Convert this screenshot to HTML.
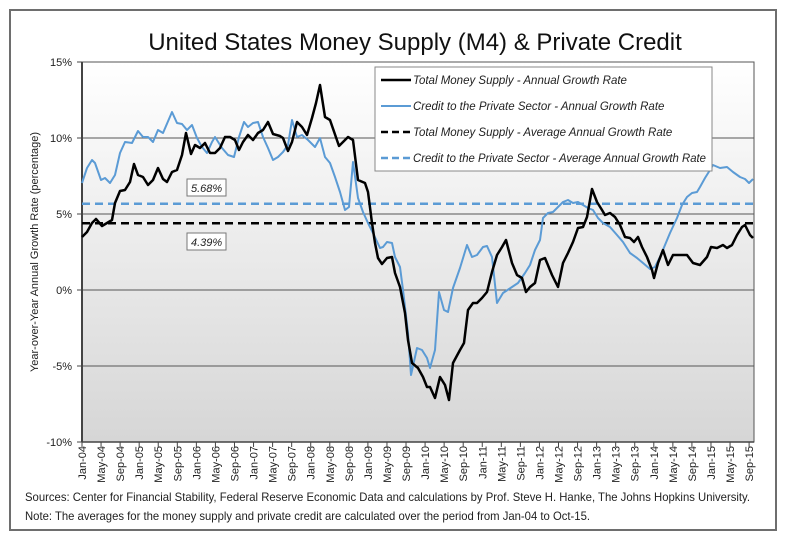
<!DOCTYPE html>
<html><head><meta charset="utf-8"><style>
body{margin:0;width:800px;height:544px;background:#fff;overflow:hidden}
text{font-family:"Liberation Sans",Arial,sans-serif}
</style></head><body>
<svg width="800" height="544" viewBox="0 0 800 544" xmlns="http://www.w3.org/2000/svg">
<defs><linearGradient id="g" x1="0" y1="0" x2="0" y2="1"><stop offset="0" stop-color="#ffffff"/><stop offset="1" stop-color="#d6d6d6"/></linearGradient></defs>
<rect x="10" y="10" width="766" height="520" fill="#fff" stroke="#6e6e6e" stroke-width="2"/>
<text x="415" y="50" font-size="24" text-anchor="middle" fill="#111">United States Money Supply (M4) &amp; Private Credit</text>
<rect x="82" y="62" width="672" height="380" fill="url(#g)" stroke="#555" stroke-width="1"/>
<g stroke="#555" stroke-width="1">
<line x1="82" y1="138" x2="754" y2="138"/><line x1="82" y1="214" x2="754" y2="214"/>
<line x1="82" y1="290" x2="754" y2="290"/><line x1="82" y1="366" x2="754" y2="366"/>
</g>
<line x1="82" y1="62" x2="82" y2="442" stroke="#444" stroke-width="2"/>
<line x1="82" y1="442" x2="754" y2="442" stroke="#444" stroke-width="1.5"/>
<g stroke="#444" stroke-width="1"><line x1="77" y1="62" x2="82" y2="62"/><line x1="77" y1="138" x2="82" y2="138"/><line x1="77" y1="214" x2="82" y2="214"/><line x1="77" y1="290" x2="82" y2="290"/><line x1="77" y1="366" x2="82" y2="366"/><line x1="77" y1="442" x2="82" y2="442"/></g>
<g font-size="11" fill="#222" text-anchor="end">
<text x="72" y="66">15%</text><text x="72" y="142">10%</text><text x="72" y="218">5%</text><text x="72" y="294">0%</text><text x="72" y="370">-5%</text><text x="72" y="446">-10%</text>
</g>
<text transform="translate(38,252) rotate(-90)" font-size="11" text-anchor="middle" fill="#222">Year-over-Year Annual Growth Rate (percentage)</text>
<g id="xt" font-size="11" fill="#222"></g>
<line x1="82" y1="203.7" x2="754" y2="203.7" stroke="#5b9bd5" stroke-width="2.5" stroke-dasharray="8,5"/>
<line x1="82" y1="223.3" x2="754" y2="223.3" stroke="#000" stroke-width="2.5" stroke-dasharray="8,5"/>
<polyline fill="none" stroke="#5b9bd5" stroke-width="2" stroke-linejoin="round" points="82,183 87,168 92,160 95,163 101,180 105,178 110,183 115,175 120,153 125,142 132,143 138,131 143,137 148,137 153,142 158,130 163,133 172,112 177,123 182,124 187,130 192,125 197,138 202,147 207,153 212,142 215,137 222,148 228,155 234,157 239,137 244,122 248,127 253,123 258,122 263,137 268,148 273,160 278,157 283,152 288,145 292,120 297,137 302,135 308,140 315,147 320,138 325,157 330,163 335,177 340,192 345,210 349,207 353,162 358,198 363,212 368,223 373,233 380,248 383,247 387,242 392,243 395,257 400,267 403,290 408,333 411,375 417,348 422,350 427,358 430,368 435,350 439,292 444,310 448,312 453,288 460,268 467,245 472,257 477,255 483,247 487,246 492,257 497,303 503,293 512,287 518,283 525,273 530,265 535,250 540,240 543,218 548,213 553,212 558,207 563,202 568,200 573,203 578,202 583,205 588,208 593,210 598,218 603,223 610,227 617,235 623,242 630,253 637,258 643,263 650,269 655,267 660,257 665,245 670,233 677,218 682,205 687,197 692,193 697,192 700,187 705,178 710,170 713,165 720,168 727,167 733,172 740,177 745,179 749,183 753,179"/>
<polyline fill="none" stroke="#000" stroke-width="2.5" stroke-linejoin="round" points="82,237 87,232 92,223 96,219 102,226 107,223 112,220 115,203 120,191 125,190 130,182 134,164 138,175 143,177 148,185 153,180 158,168 163,179 167,182 172,172 177,170 182,155 186,133 191,154 195,145 200,148 205,143 210,153 215,153 220,148 225,137 230,137 235,140 239,150 243,142 248,135 253,140 258,133 263,130 268,122 273,134 280,136 283,138 288,151 292,142 297,122 302,127 307,135 312,118 316,103 320,85 325,117 330,120 339,146 343,142 348,137 353,140 358,180 365,183 368,192 372,223 375,243 378,258 382,264 387,258 392,257 395,273 400,287 405,313 408,340 412,363 418,368 423,377 427,387 430,387 435,398 440,377 445,385 449,400 453,363 460,350 464,343 468,310 473,303 477,303 482,298 487,292 492,272 497,255 502,247 506,240 512,263 517,275 522,278 526,292 530,287 535,283 540,260 545,258 552,275 558,287 563,263 568,253 573,242 578,228 583,227 587,217 592,189 597,202 602,210 605,215 610,213 615,217 620,225 625,237 630,238 634,242 638,237 642,247 647,257 652,270 654,278 658,263 663,250 668,265 673,255 680,255 687,255 693,263 700,265 707,257 711,247 717,248 723,245 727,248 732,245 737,235 742,227 745,225 750,235 753,238"/>
<g font-size="11" font-style="italic" fill="#222">
<rect x="187" y="179" width="39" height="17" fill="#fff" stroke="#777"/><text x="191" y="192">5.68%</text>
<rect x="187" y="233" width="39" height="17" fill="#fff" stroke="#777"/><text x="191" y="246">4.39%</text>
</g>
<rect x="375" y="67" width="337" height="104" fill="#fff" stroke="#888"/>
<g stroke-width="2.5">
<line x1="381" y1="80" x2="411" y2="80" stroke="#000"/>
<line x1="381" y1="106" x2="411" y2="106" stroke="#5b9bd5" stroke-width="2"/>
<line x1="381" y1="132" x2="411" y2="132" stroke="#000" stroke-dasharray="7,4"/>
<line x1="381" y1="158" x2="411" y2="158" stroke="#5b9bd5" stroke-dasharray="7,4"/>
</g>
<g font-size="11.5" font-style="italic" fill="#222">
<text x="413" y="84">Total Money Supply - Annual Growth Rate</text>
<text x="413" y="110">Credit to the Private Sector - Annual Growth Rate</text>
<text x="413" y="136">Total Money Supply - Average Annual Growth Rate</text>
<text x="413" y="162" textLength="293" lengthAdjust="spacingAndGlyphs">Credit to the Private Sector - Average Annual Growth Rate</text>
</g>
<g font-size="12" fill="#222">
<text x="25" y="501" textLength="725" lengthAdjust="spacingAndGlyphs">Sources: Center for Financial Stability, Federal Reserve Economic Data and calculations by Prof. Steve H. Hanke, The Johns Hopkins University.</text>
<text x="25" y="520" textLength="565" lengthAdjust="spacingAndGlyphs">Note: The averages for the money supply and private credit are calculated over the period from Jan-04 to Oct-15.</text>
</g>
<g id="ticks" stroke="#444" stroke-width="1"></g>
<script>
var m=["Jan","May","Sep"],xt=document.getElementById("xt"),tk=document.getElementById("ticks"),ns="http://www.w3.org/2000/svg";
for(var i=0;i<36;i++){var x=82+i*19.06,y=4+Math.floor(i/3);var lab=m[i%3]+"-"+(y<10?"0":"")+y;
var t=document.createElementNS(ns,"text");t.setAttribute("transform","translate("+(x+4)+",446) rotate(-90)");t.setAttribute("text-anchor","end");t.textContent=lab;xt.appendChild(t);
var l=document.createElementNS(ns,"line");l.setAttribute("x1",x);l.setAttribute("x2",x);l.setAttribute("y1",442);l.setAttribute("y2",447);tk.appendChild(l);}
</script>
</svg>
</body></html>
